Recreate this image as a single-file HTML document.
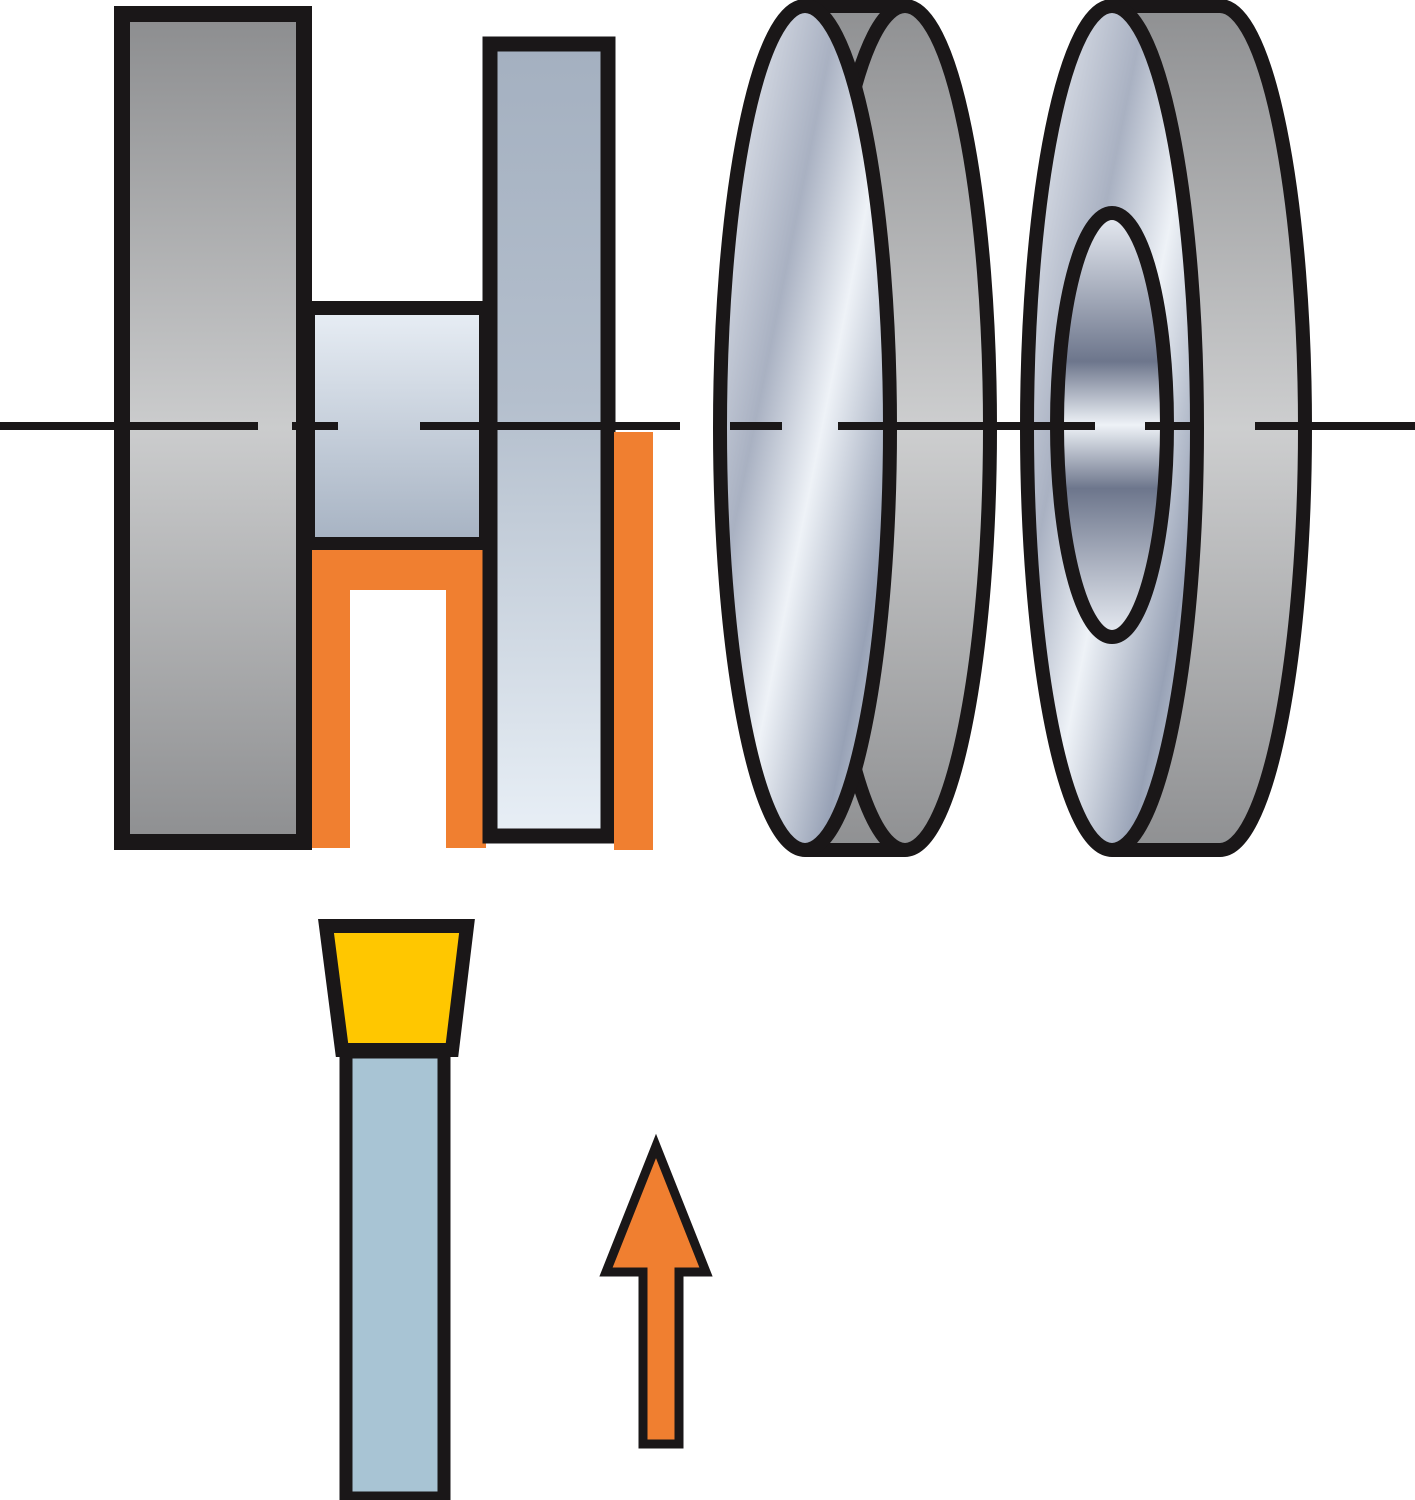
<!DOCTYPE html>
<html><head><meta charset="utf-8"><style>html,body{margin:0;padding:0;background:#fff}svg{display:block}</style></head>
<body>
<svg width="1415" height="1500" viewBox="0 0 1415 1500" xmlns="http://www.w3.org/2000/svg">
<defs>
<linearGradient id="g1" x1="0" y1="0" x2="0" y2="1">
<stop offset="0" stop-color="#8c8d8f"/><stop offset="0.5" stop-color="#cbcccd"/><stop offset="1" stop-color="#8e8f91"/></linearGradient>
<linearGradient id="hub" x1="0" y1="0" x2="0" y2="1">
<stop offset="0" stop-color="#e8eef5"/><stop offset="1" stop-color="#a6b2c2"/></linearGradient>
<linearGradient id="tall" x1="0" y1="0" x2="0" y2="1">
<stop offset="0" stop-color="#a4b0c0"/><stop offset="0.45" stop-color="#b4bfcd"/><stop offset="1" stop-color="#e8eff6"/></linearGradient>
<linearGradient id="band" x1="0" y1="0" x2="0" y2="1">
<stop offset="0" stop-color="#8f9092"/><stop offset="0.5" stop-color="#cdcecf"/><stop offset="1" stop-color="#8f9092"/></linearGradient>
<linearGradient id="face" x1="0" y1="0" x2="1" y2="1">
<stop offset="0" stop-color="#f0f3f8"/><stop offset="0.35" stop-color="#a9b1c2"/><stop offset="0.55" stop-color="#eef2f7"/><stop offset="0.8" stop-color="#98a2b6"/><stop offset="1" stop-color="#dde3ec"/></linearGradient>
<linearGradient id="inner" x1="0" y1="0" x2="0" y2="1">
<stop offset="0" stop-color="#e8ecf3"/><stop offset="0.35" stop-color="#6d768c"/><stop offset="0.5" stop-color="#eef2f7"/><stop offset="0.65" stop-color="#6d768c"/><stop offset="1" stop-color="#e8ecf3"/></linearGradient>
</defs>

<!-- left block -->
<rect x="122" y="14" width="182" height="828" fill="url(#g1)" stroke="#1a1718" stroke-width="16"/>
<!-- hub -->
<rect x="308" y="308" width="178" height="236" fill="url(#hub)" stroke="#1a1718" stroke-width="14"/>
<!-- orange U -->
<path d="M312 550 H486 V848 H446 V590 H350 V848 H312 Z" fill="#f07f30"/>
<!-- tall rect -->
<rect x="490" y="44" width="118" height="792" fill="url(#tall)" stroke="#1a1718" stroke-width="15"/>
<!-- orange strip -->
<rect x="614" y="432" width="39" height="418" fill="#f07f30"/>

<!-- disc 1 -->
<path d="M805 6 H905 A85 422 0 0 1 905 850 H805 Z" fill="url(#band)"/>
<ellipse cx="905" cy="428" rx="85" ry="422" fill="url(#band)" stroke="#1a1718" stroke-width="14"/>
<path d="M805 6 H905 M805 850 H905" stroke="#1a1718" stroke-width="14"/>
<ellipse cx="805" cy="428" rx="85" ry="422" fill="url(#face)" stroke="#1a1718" stroke-width="14"/>

<!-- disc 2 -->
<ellipse cx="1220" cy="428" rx="85" ry="422" fill="url(#band)" stroke="#1a1718" stroke-width="14"/>
<rect x="1112" y="6" width="108" height="844" fill="url(#band)"/>
<path d="M1112 6 H1220 M1112 850 H1220" stroke="#1a1718" stroke-width="14"/>
<ellipse cx="1112" cy="428" rx="85" ry="422" fill="url(#face)" stroke="#1a1718" stroke-width="14"/>
<ellipse cx="1112" cy="425" rx="55" ry="212" fill="url(#inner)" stroke="#1a1718" stroke-width="14"/>

<!-- centerline -->
<g stroke="#1a1718" stroke-width="8">
<line x1="0" y1="426" x2="258" y2="426"/>
<line x1="292" y1="426" x2="338" y2="426"/>
<line x1="420" y1="426" x2="680" y2="426"/>
<line x1="730" y1="426" x2="782" y2="426"/>
<line x1="838" y1="426" x2="1095" y2="426"/>
<line x1="1145" y1="426" x2="1192" y2="426"/>
<line x1="1255" y1="426" x2="1415" y2="426"/>
</g>

<!-- tool -->
<rect x="346" y="1052" width="98" height="446" fill="#a8c4d4" stroke="#1a1718" stroke-width="13"/>
<path d="M326 926 H467 L452 1050 H342 Z" fill="#ffc700" stroke="#1a1718" stroke-width="14" stroke-linejoin="miter"/>

<!-- arrow -->
<path d="M656 1146 L706 1272 H679 V1444 H643 V1272 H606 Z" fill="#f07f30" stroke="#1a1718" stroke-width="9" stroke-linejoin="miter"/>
</svg>
</body></html>
